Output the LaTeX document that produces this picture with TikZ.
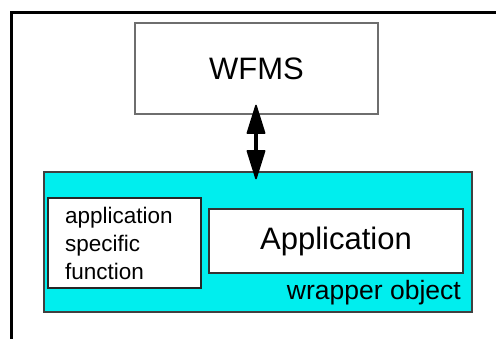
\documentclass[tikz,border=0pt]{standalone}
\usepackage{fontspec}
\setmainfont{Liberation Sans}
\usetikzlibrary{arrows.meta}
\definecolor{wrapcyan}{RGB}{0,238,238}
\definecolor{edgegray}{RGB}{110,110,110}
\tikzset{
  box/.style={draw=edgegray, line width=1.3pt, fill=white, rectangle, inner sep=0pt},
  bigtext/.style={font=\fontsize{31}{36}\selectfont},
  midtext/.style={font=\fontsize{22.5}{28}\selectfont},
  lbltext/.style={font=\fontsize{26.5}{30}\selectfont},
}
\begin{document}
\begin{tikzpicture}[x=1pt,y=-1pt]
  \useasboundingbox (0,0) rectangle (496,338);
  % page frame, running off the right and bottom edges
  \begin{scope}
    \clip (0,0) rectangle (496,338);
    \draw[line width=3pt] (11.5,12) rectangle (520,360);
  \end{scope}
  \node[box, bigtext, minimum width=243pt, minimum height=91pt] (wfms) at (256.5,68.5) {WFMS};
  \node[box, fill=wrapcyan, draw=black!75, minimum width=428pt, minimum height=140pt] (wrap) at (258,242) {};
  \node[box, draw=black!85, midtext, minimum width=153pt, minimum height=90pt, text width=119pt, align=left, inner xsep=17pt] (asf) at (124.5,243) {application\\specific\\function};
  \node[box, draw=black!80, bigtext, minimum width=254pt, minimum height=64pt] (app) at (336,241) {Application};
  \node[lbltext, anchor=base east, inner sep=0pt] (wlabel) at (461,299) {wrapper object};
  \draw[line width=3.4pt, {Triangle[length=31pt,width=19pt,line width=1.5pt,round]}-{Triangle[length=31pt,width=19pt,line width=1.5pt,round]}]
    ([xshift=-0.5pt,yshift=10pt]wfms.south) -- ([xshift=-2pt,yshift=-8pt]wrap.north);
\end{tikzpicture}
\end{document}
